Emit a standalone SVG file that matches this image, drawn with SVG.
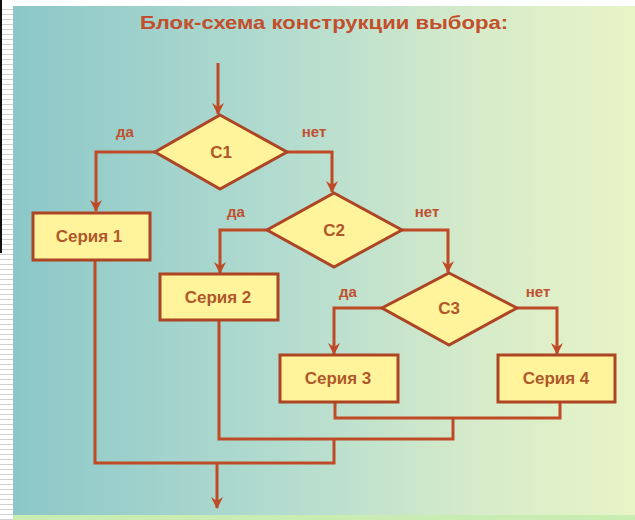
<svg xmlns="http://www.w3.org/2000/svg" width="635" height="520" viewBox="0 0 635 520">
  <defs>
    <linearGradient id="bg" x1="0" y1="0" x2="1" y2="0">
      <stop offset="0" stop-color="#8ac6c8"/>
      <stop offset="0.45" stop-color="#b3dccf"/>
      <stop offset="0.75" stop-color="#d6ebca"/>
      <stop offset="1" stop-color="#e8f4c6"/>
    </linearGradient>
    <pattern id="lines" x="0" y="0" width="12" height="5" patternUnits="userSpaceOnUse">
      <rect width="12" height="5" fill="#ffffff"/>
      <line x1="0" y1="4.5" x2="12" y2="4.5" stroke="#d0d0d0" stroke-width="1"/>
    </pattern>
    <marker id="arr" viewBox="0 0 12 12" refX="11" refY="6" markerWidth="12" markerHeight="12" markerUnits="userSpaceOnUse" orient="auto">
      <path d="M0,0 L12,6 L0,12 L4,6 Z" fill="#bf4a26"/>
    </marker>
  </defs>
  <style>
    .ln { fill: none; stroke: #bf4a26; stroke-width: 3; stroke-linejoin: miter; }
    .box { fill: #fff49c; stroke: #ad4424; stroke-width: 3; }
    .dia { fill: #fff49c; stroke: #ad4424; stroke-width: 3; stroke-linejoin: miter; }
    .t { font-family: "Liberation Sans", Arial, sans-serif; font-weight: bold; fill: #b0582a; text-anchor: middle; }
    .nt { font-size: 17px; }
    .lb { font-size: 15px; fill: #c05030; }
    .title { font-family: "Liberation Sans", Arial, sans-serif; font-weight: bold; font-size: 19px; fill: #c24e2c; }
  </style>

  <rect x="0" y="0" width="635" height="520" fill="url(#bg)"/>
  <rect x="0" y="0" width="13" height="520" fill="url(#lines)"/>
  <rect x="0" y="0" width="635" height="6" fill="#ffffff"/>
  <rect x="0" y="0" width="2" height="253" fill="#111111"/>
  <rect x="13" y="515" width="622" height="5" fill="#c8ecb2"/>

  <text class="title" x="140" y="29" textLength="368" lengthAdjust="spacingAndGlyphs">Блок-схема конструкции выбора:</text>

  <g id="connectors">
    <path class="ln" d="M218,63 V114" marker-end="url(#arr)"/>
    <path class="ln" d="M155,152 H96 V211" marker-end="url(#arr)"/>
    <path class="ln" d="M287,152 H332 V192" marker-end="url(#arr)"/>
    <path class="ln" d="M267,230 H220 V273" marker-end="url(#arr)"/>
    <path class="ln" d="M402,230 H448 V272" marker-end="url(#arr)"/>
    <path class="ln" d="M382,308 H334 V354" marker-end="url(#arr)"/>
    <path class="ln" d="M517,308 H557 V354" marker-end="url(#arr)"/>
    <path class="ln" d="M335,402 V418 H560 V402"/>
    <path class="ln" d="M453,418 V439 H219 V320"/>
    <path class="ln" d="M334,439 V463 H95 V260"/>
    <path class="ln" d="M217,463 V508" marker-end="url(#arr)"/>
    <text class="t lb" x="125" y="137">да</text>
    <text class="t lb" x="314" y="137">нет</text>
    <text class="t lb" x="236" y="217">да</text>
    <text class="t lb" x="427" y="217">нет</text>
    <text class="t lb" x="348" y="297">да</text>
    <text class="t lb" x="538" y="297">нет</text>
  </g>

  <g id="c1">
    <polygon class="dia" points="220,115 287,152 220,189 155,152"/>
    <text class="t nt" x="221" y="158">C1</text>
  </g>
  <g id="c2">
    <polygon class="dia" points="334,193 402,230 334,267 267,230"/>
    <text class="t nt" x="334" y="236">C2</text>
  </g>
  <g id="c3">
    <polygon class="dia" points="449,273 517,308 449,345 382,308"/>
    <text class="t nt" x="449" y="314">C3</text>
  </g>
  <g id="s1">
    <rect class="box" x="33" y="213" width="117" height="47"/>
    <text class="t nt" x="89" y="242">Серия 1</text>
  </g>
  <g id="s2">
    <rect class="box" x="160" y="274" width="118" height="46"/>
    <text class="t nt" x="218" y="303">Серия 2</text>
  </g>
  <g id="s3">
    <rect class="box" x="280" y="355" width="118" height="47"/>
    <text class="t nt" x="338" y="384">Серия 3</text>
  </g>
  <g id="s4">
    <rect class="box" x="498" y="355" width="117" height="47"/>
    <text class="t nt" x="556" y="384">Серия 4</text>
  </g>
</svg>
